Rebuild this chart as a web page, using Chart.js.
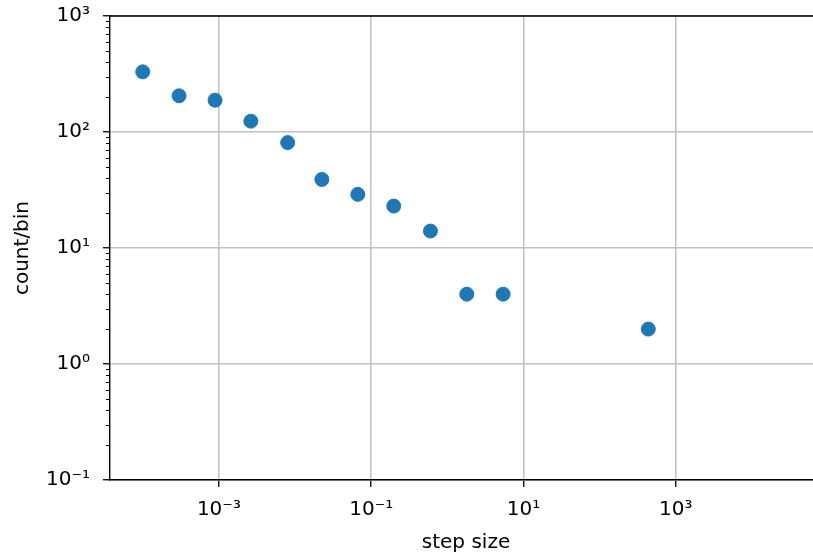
<!DOCTYPE html>
<html>
<head>
<meta charset="utf-8">
<script src="https://cdn.jsdelivr.net/npm/chart.js@4/dist/chart.umd.min.js"></script>
<style>
  html, body { margin: 0; padding: 0; background: #fff; overflow: hidden; }
  canvas { display: block; }
</style>
</head>
<body>
<canvas id="c" width="813" height="559"></canvas>
<script>
// ---- data ----
const stepSizes = [1.0e-4, 3.0e-4, 8.9e-4, 2.63e-3, 8.0e-3, 0.0225, 0.0667, 0.198, 0.60, 1.8, 5.4, 435];
const counts    = [330, 205, 188, 124, 81, 39, 29, 23, 14, 4, 4, 2];
const xTickValues = [1e-3, 1e-1, 1e1, 1e3];
const yTickValues = [1e-1, 1e0, 1e1, 1e2, 1e3];
const xLabel = 'step size';
const yLabel = 'count/bin';

const sup = {'-':'⁻','0':'⁰','1':'¹','2':'²','3':'³','4':'⁴','5':'⁵','6':'⁶','7':'⁷','8':'⁸','9':'⁹'};
function powLabel(v) {
  const e = Math.round(Math.log10(v));
  return '10' + String(e).split('').map(ch => sup[ch]).join('');
}

const FONT = "'DejaVu Sans', sans-serif";
const AXES_RIGHT = 822; // the reference axes box runs just past the right edge of the picture

const axesExtent = {
  id: 'axesExtent',
  afterLayout(chart) {
    const x = chart.scales.x;
    x.right = AXES_RIGHT;
    x.width = x.right - x.left;
    x.configure();
    chart.chartArea.right = AXES_RIGHT;
    chart.chartArea.width = AXES_RIGHT - chart.chartArea.left;
  }
};

const spinesAndMinor = {
  id: 'spinesAndMinor',
  beforeDatasetsDraw(chart) {
    const {ctx, chartArea: a, scales} = chart;
    const y = scales.y;
    ctx.save();
    ctx.strokeStyle = '#000';
    ctx.lineWidth = 1.4;
    ctx.beginPath();
    ctx.moveTo(a.left, a.top);
    ctx.lineTo(a.right, a.top);
    ctx.stroke();
    ctx.lineWidth = 1;
    for (let d = -1; d < 3; d++) {
      for (let m = 2; m <= 9; m++) {
        const py = Math.round(y.getPixelForValue(m * Math.pow(10, d))) + 0.5;
        ctx.beginPath();
        ctx.moveTo(a.left - 4, py);
        ctx.lineTo(a.left, py);
        ctx.stroke();
      }
    }
    ctx.restore();
  }
};

new Chart(document.getElementById('c'), {
  type: 'scatter',
  data: {
    datasets: [{
      data: stepSizes.map((x, i) => ({x: x, y: counts[i]})),
      backgroundColor: '#1f77b4',
      borderColor: '#1f77b4',
      borderWidth: 1,
      pointRadius: 7,
      pointHoverRadius: 7
    }]
  },
  options: {
    responsive: false,
    animation: false,
    layout: { padding: { left: 0, top: 16, right: 0, bottom: 0 } },
    plugins: { legend: { display: false }, tooltip: { enabled: false } },
    scales: {
      x: {
        type: 'logarithmic',
        min: Math.pow(10, -4.43),
        max: Math.pow(10, 4.92),
        afterBuildTicks: s => { s.ticks = xTickValues.map(v => ({value: v, major: true})); },
        afterFit: s => { s.height = 79; s.paddingLeft = 0; s.paddingRight = 0; },
        grid: { color: '#c0c0c0', lineWidth: 1.5, tickColor: '#000', tickLength: 7, tickWidth: 1.3 },
        border: { color: '#000', width: 1.4 },
        ticks: {
          autoSkip: false, maxRotation: 0, padding: 11,
          color: '#000', font: { family: FONT, size: 20 },
          callback: v => powLabel(v)
        },
        title: {
          display: true, text: xLabel, color: '#000',
          font: { family: FONT, size: 20, lineHeight: 1.2 },
          padding: { top: 0, bottom: 4 }
        }
      },
      y: {
        type: 'logarithmic',
        min: 0.1,
        max: 1000,
        afterBuildTicks: s => { s.ticks = yTickValues.map(v => ({value: v, major: true})); },
        afterFit: s => { s.width = 110; s.paddingTop = 0; s.paddingBottom = 0; },
        grid: { color: '#c0c0c0', lineWidth: 1.5, tickColor: '#000', tickLength: 7, tickWidth: 1.3 },
        border: { color: '#000', width: 1.4 },
        ticks: {
          autoSkip: false, padding: 13,
          color: '#000', font: { family: FONT, size: 20 },
          callback: v => powLabel(v)
        },
        title: {
          display: true, text: yLabel, color: '#000',
          font: { family: FONT, size: 20, lineHeight: 1.2 },
          padding: { top: 11, bottom: 0 }
        }
      }
    }
  },
  plugins: [axesExtent, spinesAndMinor]
});
</script>
</body>
</html>
